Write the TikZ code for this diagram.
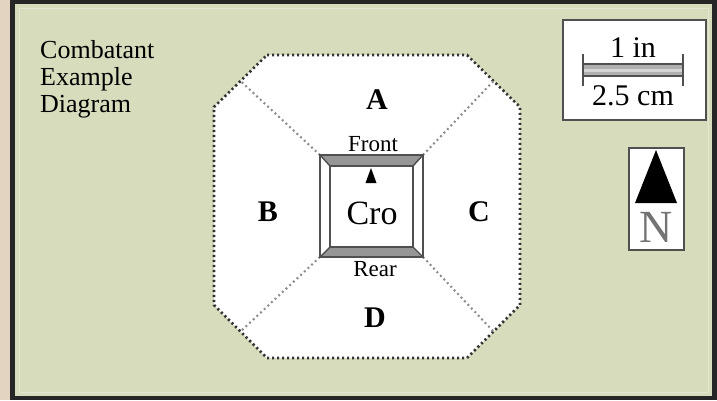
\documentclass[tikz,border=0pt]{standalone}
\usepackage{fontspec}
\setmainfont{Liberation Serif}
\definecolor{bggreen}{RGB}{214,220,188}
\definecolor{tanstrip}{RGB}{226,212,192}
\definecolor{bandgray}{RGB}{150,150,150}
\definecolor{edgegray}{RGB}{80,80,80}
\begin{document}
\begin{tikzpicture}[x=1pt,y=-1pt,
  dots/.style={line width=2.6pt, dash pattern=on 2.2pt off 2.8pt, line cap=butt, draw=black!80},
  innerdots/.style={line width=2.1pt, dash pattern=on 1.9pt off 3.1pt, line cap=butt, draw=black!45},
  zone/.style={inner sep=0pt, font=\bfseries\fontsize{30}{30}\selectfont},
  plain/.style={inner sep=0pt, font=\fontsize{26}{27}\selectfont},
  small/.style={inner sep=0pt, font=\fontsize{23}{23}\selectfont},
  frameline/.style={draw=edgegray, line width=1.4pt}]
\useasboundingbox (0,0) rectangle (717,400);
% background and frame
\fill[tanstrip] (0,0) rectangle (717,400);
\fill[black!85] (10,0) rectangle (717,400);
\fill[bggreen] (15,4) rectangle (712,396);
\draw[white!30!bggreen, line width=1pt] (19,8) rectangle (708,392);
% octagon
\coordinate (o1) at (267,55);
\coordinate (o2) at (467,55);
\coordinate (o3) at (520,107);
\coordinate (o4) at (520,305);
\coordinate (o5) at (467,358);
\coordinate (o6) at (267,358);
\coordinate (o7) at (214,305);
\coordinate (o8) at (214,107);
\coordinate (m1) at (240.5,81);
\coordinate (m2) at (493.5,81);
\coordinate (m3) at (493.5,331.5);
\coordinate (m4) at (240.5,331.5);
\fill[white] (o1)--(o2)--(o3)--(o4)--(o5)--(o6)--(o7)--(o8)--cycle;
\draw[dots] (o1)--(o2)--(o3)--(o4)--(o5)--(o6)--(o7)--(o8)--cycle;
% square corners
\coordinate (s1) at (320,155);
\coordinate (s2) at (423,155);
\coordinate (s3) at (423,257);
\coordinate (s4) at (320,257);
\coordinate (i1) at (330,166);
\coordinate (i2) at (413,166);
\coordinate (i3) at (413,247);
\coordinate (i4) at (330,247);
% dividing dotted lines
\draw[innerdots] (s1) -- (m1);
\draw[innerdots] (s2) -- (m2);
\draw[innerdots] (s3) -- (m3);
\draw[innerdots] (s4) -- (m4);
% combatant square
\fill[white] (s1) rectangle (s3);
\fill[bandgray] (s1)--(s2)--(i2)--(i1)--cycle;
\fill[bandgray] (s4)--(s3)--(i3)--(i4)--cycle;
\draw[frameline] (s1) rectangle (s3);
\draw[frameline] (i1) rectangle (i3);
\draw[frameline] (s1)--(i1);
\draw[frameline] (s2)--(i2);
\draw[frameline] (s3)--(i3);
\draw[frameline] (s4)--(i4);
\fill[black] (365.5,183) -- (376.5,183) -- (371,168) -- cycle;
\node[inner sep=0pt, font=\fontsize{34}{34}\selectfont] (cro) at (372,213) {Cro};
\node[small] (front) at (373,144) {Front};
\node[small] (rear) at (375,269) {Rear};
% zone labels
\node[zone] (A) at (377,100) {A};
\node[zone] (B) at (268,212) {B};
\node[zone] (C) at (479,212) {C};
\node[zone] (D) at (375,318) {D};
% title
\node[plain, anchor=base west] (t1) at (40,58) {Combatant};
\node[plain, anchor=base west] (t2) at (40,85) {Example};
\node[plain, anchor=base west] (t3) at (40,112) {Diagram};
% scale box
\draw[frameline, fill=white] (563,20) rectangle (706,120);
\fill[bandgray!75] (583,64) rectangle (683,76);
\fill[white!60!bandgray] (583,68.5) rectangle (683,71.5);
\draw[edgegray, line width=1.2pt] (583,64) -- (683,64);
\draw[edgegray, line width=1.2pt] (583,76) -- (683,76);
\draw[edgegray, line width=1.2pt] (583,54) -- (583,86);
\draw[edgegray, line width=1.2pt] (683,54) -- (683,86);
\node[inner sep=0pt, font=\fontsize{30}{30}\selectfont, anchor=base] (inch) at (633,57) {1 in};
\node[inner sep=0pt, font=\fontsize{30}{30}\selectfont, anchor=base] (cm) at (633,105) {2.5 cm};
% north box
\draw[frameline, fill=white] (629,148) rectangle (684,250);
\fill[black] (635,203) -- (677,203) -- (656,150) -- cycle;
\node[inner sep=0pt, font=\fontsize{46}{46}\selectfont, text=black!55] (N) at (656,227) {N};
\end{tikzpicture}
\end{document}
